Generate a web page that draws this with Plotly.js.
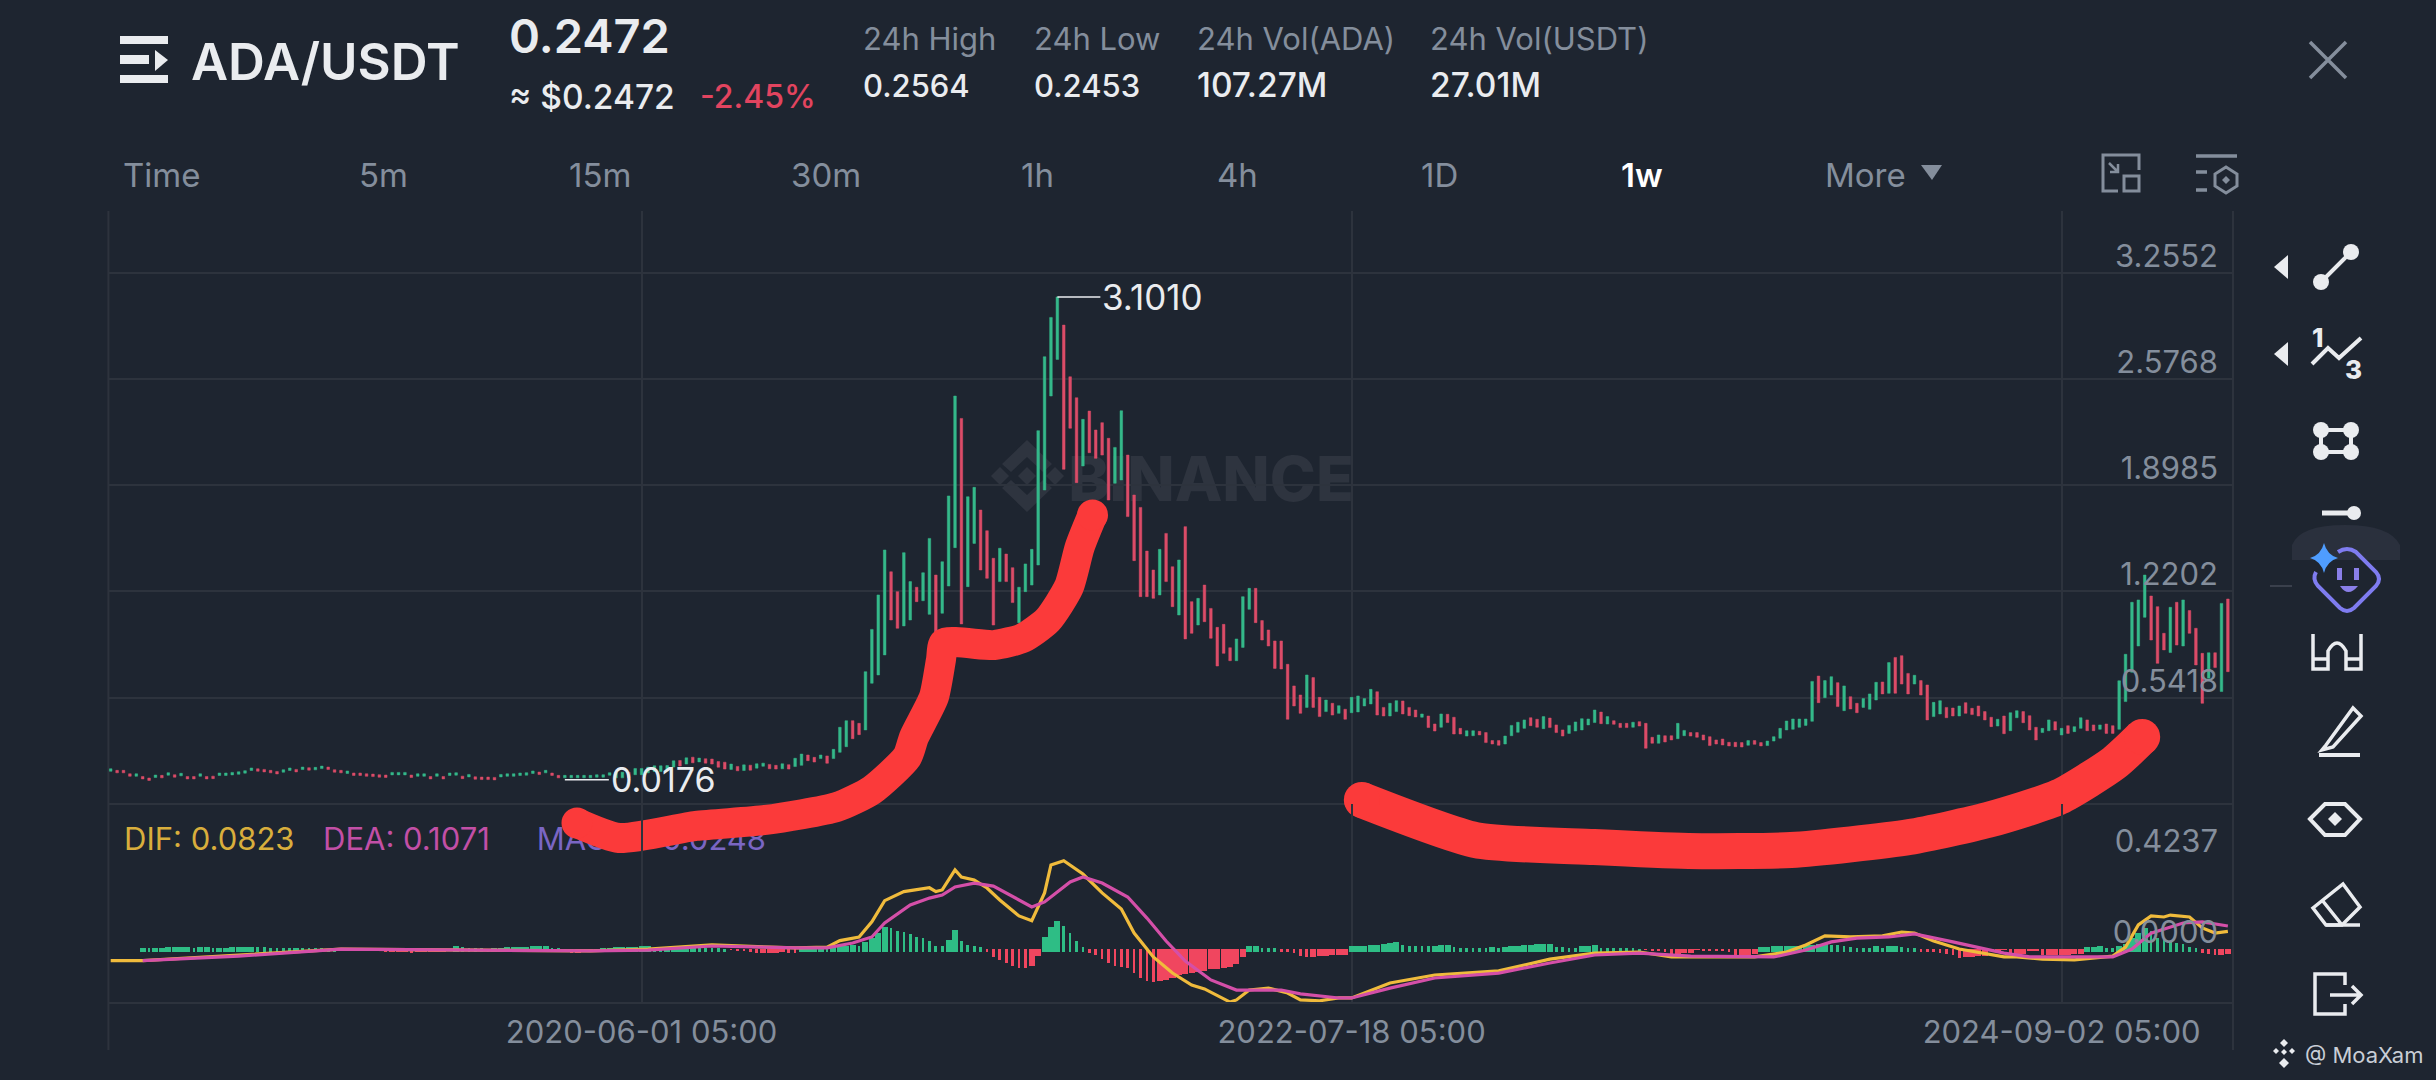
<!DOCTYPE html>
<html>
<head>
<meta charset="utf-8">
<script src="https://cdn.plot.ly/plotly-3.0.1.min.js"></script>
<style>html,body{margin:0;padding:0;background:#1e2530;overflow:hidden}#chart{width:2436px;height:1080px}</style>
</head>
<body>
<div id="chart"></div>
<script>
// ---- weekly candles (week 1 = 2018-10-29) ----
const open = [
.072,.078,.078,.056,.040,.039,.029,.032,.046,.047,
.050,.043,.039,.039,.040,.039,.041,.045,.045,.049,
.053,.060,.077,.088,.084,.078,.071,.066,.077,.084,
.083,.095,.081,.089,.099,.082,.078,.058,.061,.061,
.056,.054,.050,.048,.049,.049,.049,.048,.040,.040,
.039,.040,.039,.045,.047,.041,.036,.037,.035,.035,
.033,.036,.040,.040,.045,.047,.058,.067,.062,.061,
.046,.030,.030,.030,.030,.030,.034,.034,.047,
.030,.030,.066,.050,.050,.062,.071,.071,.073,.099,
.141,.118,.162,.132,.152,.150,.134,.130,.084,.103,
.077,.111,.092,.104,.116,.110,.088,.114,.102,.110,
.176,.161,.153,.170,.153,.193,.229,.395,.378,
.336,.634,.687,.815,1.346,1.219,1.000,1.038,1.247,1.161,
1.074,1.325,1.081,1.255,1.500,2.325,1.251,1.527,1.740,1.608,
1.432,1.283,1.459,1.372,1.021,1.219,1.261,1.389,1.868,2.468,
2.702,2.921,2.591,2.457,2.021,2.372,2.251,2.298,2.198,1.911,
1.932,2.091,1.836,1.757,1.478,1.357,1.198,1.591,1.378,1.070,
1.634,1.155,1.006,1.261,1.112,.991,1.010,.861,.778,.863,
1.106,1.240,1.034,.974,.904,.904,.755,.617,.559,.480,
.670,.544,.453,.506,.442,.468,.446,.451,.489,.502,
.580,.480,.425,.453,.521,.480,.463,.417,.425,.374,
.353,.436,.417,.346,.297,.299,.327,.319,.268,.268,
.246,.299,.321,.346,.414,.404,.344,.412,.368,.336,
.314,.329,.336,.368,.383,.450,.374,.395,.378,.378,
.353,.389,.378,.289,.251,.299,.299,.280,.299,.319,
.319,.304,.293,.272,.278,.257,.257,.255,.238,.268,
.255,.236,.265,.283,.336,.340,.353,.365,.391,.680,
.542,.559,.638,.459,.548,.506,.480,.468,.527,.642,
.570,.799,.810,.697,.629,.651,.623,.421,.438,.480,
.476,.425,.510,.474,.489,.453,.417,.361,.425,.331,
.414,.453,.427,.353,.319,.331,.389,.304,.363,.325,
.346,.400,.368,.340,.374,.363,.340,.517,.704,.872,
1.055,1.191,1.123,.953,.830,1.151,.872,1.098,.985,.825,
.666,.829,.581,1.172];
const close = [
.088,.062,.062,.040,.056,.023,.013,.048,.030,.063,
.034,.059,.023,.023,.056,.023,.025,.061,.061,.065,
.069,.076,.093,.072,.068,.062,.055,.082,.093,.068,
.099,.079,.097,.105,.083,.066,.062,.074,.045,.045,
.040,.038,.034,.032,.065,.065,.065,.032,.056,.056,
.023,.056,.023,.061,.063,.025,.052,.021,.019,.019,
.017,.052,.056,.056,.061,.063,.074,.051,.078,.045,
.030,.046,.046,.046,.046,.046,.050,.050,.063,
.066,.066,.030,.090,.090,.098,.107,.107,.109,.139,
.105,.158,.126,.156,.124,.118,.098,.086,.118,.075,
.113,.079,.120,.124,.088,.086,.120,.086,.155,.182,
.140,.131,.176,.123,.212,.353,.395,.280,.306,
.708,.978,1.198,1.485,1.038,.985,1.468,1.283,1.155,1.340,
1.559,.953,1.410,1.830,2.468,1.013,1.825,1.885,1.357,1.304,
1.006,1.496,1.283,1.149,1.247,1.396,1.489,2.247,2.719,2.970,
3.101,2.000,2.262,1.915,2.319,2.106,2.070,2.091,1.804,2.140,
2.374,1.698,1.417,1.187,1.187,1.176,1.489,1.283,1.123,1.421,
.917,.953,1.176,1.027,.921,.744,.825,.778,.917,1.187,
1.240,1.021,.910,.872,.729,.725,.404,.489,.442,.687,
.480,.421,.527,.431,.491,.404,.544,.553,.536,.595,
.431,.425,.506,.523,.438,.427,.419,.438,.351,.329,
.438,.383,.310,.310,.331,.331,.304,.255,.246,.238,
.297,.365,.385,.400,.363,.353,.421,.351,.319,.297,
.365,.387,.408,.406,.463,.376,.421,.372,.351,.351,
.385,.361,.219,.251,.304,.259,.272,.378,.333,.297,
.289,.272,.236,.246,.240,.234,.229,.227,.268,.244,
.234,.265,.293,.346,.393,.406,.406,.406,.646,.510,
.651,.676,.485,.617,.470,.446,.536,.566,.640,.566,
.766,.570,.629,.566,.685,.559,.400,.512,.523,.414,
.425,.489,.442,.434,.425,.400,.357,.404,.312,.446,
.459,.382,.336,.272,.346,.400,.336,.346,.314,.357,
.414,.331,.331,.368,.314,.314,.650,.819,1.151,1.166,
1.325,.910,.761,.847,1.119,.878,1.166,.953,.751,.506,
.829,.734,1.144,.708];

// ---- MACD histogram, one value per week ----
const hist = [
0,0,0,0,0,.004,.003,.006,.007,.008,
.009,.010,.011,.007,.009,.010,.004,.006,.007,.008,
.009,.010,.011,.010,.008,.006,.005,.005,.004,.007,
.006,.005,.004,.003,.002,.001,0,-.002,-.003,-.004,
-.005,-.006,-.007,-.016,-.015,-.014,-.013,-.017,-.016,-.015,
-.014,-.013,-.012,-.011,.012,.008,.006,.004,.003,.002,
.006,.007,.008,.009,.010,.011,.012,.013,.014,.006,
.004,.002,-.018,-.017,-.016,-.015,-.014,.006,.007,.008,
.009,.010,.011,.012,.013,.005,.004,.007,.008,.009,
.010,.011,.006,.005,.004,.003,.002,-.006,-.008,-.010,
-.012,-.020,-.019,-.018,-.017,-.016,-.018,-.020,.010,.011,
.012,.013,.010,.012,.014,.016,.018,.015,.034,.050,
.073,.102,.100,.085,.079,.068,.056,.050,.039,.016,
.014,.042,.087,.037,.020,.014,.008,-.012,-.039,-.051,
-.067,-.079,-.087,-.090,-.079,-.033,.057,.101,.129,.107,
.073,.037,.011,-.017,-.028,-.048,-.067,-.078,-.082,-.090,
-.113,-.136,-.149,-.155,-.147,-.144,-.136,-.121,-.118,-.113,
-.105,-.101,-.095,-.091,-.087,-.082,-.071,-.036,.014,.016,
.006,.005,.004,-.012,-.016,-.020,-.033,-.039,-.036,-.033,
-.031,-.030,-.029,-.028,.012,.014,.016,.018,.020,.024,
.030,.032,.018,.016,.015,.014,.013,.015,.018,.020,
.008,.007,.006,.005,.004,.003,.008,.006,.010,.013,
.015,.017,.019,.021,.023,.025,.010,.008,.007,.006,
.014,.016,.018,.006,.005,.004,.004,.003,.003,.002,
-.006,-.008,-.010,-.012,-.022,-.021,-.020,-.019,-.006,-.007,
-.008,-.009,-.010,-.012,-.028,-.027,-.026,-.025,.010,.011,
.012,.013,.014,.015,.016,.017,.020,.024,.030,.020,
.018,.016,.008,.007,.006,.005,.014,.007,.015,.016,
.008,.006,.005,-.012,-.013,-.014,-.017,-.022,-.028,-.040,
-.038,-.036,-.034,-.032,-.010,-.008,-.006,-.026,-.024,-.023,
-.010,-.009,-.030,-.029,-.028,-.027,-.026,-.025,-.024,.010,
.011,.012,.006,.005,.012,.025,.050,.075,.096,.085,
.050,.042,.039,.029,.022,.011,.006,-.020,-.024,-.030,-.028,-.025];

// ---- MACD lines, read at the weeks where the shape changes ----
const difWeek = [1,6,21,37,76,85,95,108,113,115,118,120,122,125,129,130,131,133,134,136,138,140,143,145,147,148,150,153,156,159,161,164,167,170,172,176,177,179,182,185,187,190,193,195,201,208,218,226,233,240,245,258,263,266,269,273,278,281,283,286,290,294,297,299,303,308,314,316,318,320,322,323,326,328,330,332];
const dif = [-.054,-.054,-.028,-.001,-.009,0,.019,.005,.009,.039,.056,.127,.225,.267,.285,.267,.275,.368,.335,.321,.284,.228,.154,.132,.261,.391,.411,.349,.261,.186,.074,-.037,-.112,-.168,-.186,-.247,-.237,-.191,-.182,-.205,-.237,-.241,-.228,-.228,-.158,-.121,-.102,-.047,-.019,-.014,-.037,-.037,-.014,.019,.061,.056,.061,.079,.074,.037,0,-.019,-.037,-.037,-.047,-.051,-.033,.009,.112,.154,.149,.158,.149,.098,.074,.082];
const deaWeek = [6,21,37,76,85,95,108,113,117,120,122,126,129,131,133,136,139,143,145,147,151,153,156,160,163,166,169,173,177,180,184,187,193,195,201,208,218,226,233,240,248,261,266,270,274,279,283,289,294,297,301,305,314,317,320,325,328,332];
const dea = [-.054,-.033,-.001,-.009,-.005,.014,.005,.005,.028,.056,.121,.205,.237,.251,.289,.307,.293,.228,.196,.219,.312,.335,.307,.242,.144,.037,-.056,-.144,-.191,-.191,-.191,-.209,-.228,-.228,-.182,-.135,-.112,-.065,-.028,-.019,-.033,-.037,-.005,.033,.051,.056,.070,.033,0,-.019,-.037,-.037,-.037,0,.074,.121,.126,.107];

// ---- the two hand-drawn red marker strokes ----
const stroke1Week = [73.9,80.5,92.5,103.4,114.5,120,125.5,126.6,129.7,130.8,131.3,139.1,143.6,147.5,150.8,152.5,154.5];
const stroke1Price = [-.258,-.354,-.277,-.239,-.156,-.048,.163,.291,.546,.783,.891,.878,.923,1.038,1.249,1.504,1.708];
const stroke2Week = [196.6,214.4,232.9,247.7,263.7,282.2,294.5,305.6,314.2,318.6];
const stroke2Price = [-.111,-.367,-.412,-.437,-.431,-.348,-.239,-.092,.125,.291];

// ---- labels ----
const priceTicks = [3.2552,2.5768,1.8985,1.2202,0.5418,-0.1366];
const priceTickText = ['3.2552','2.5768','1.8985','1.2202','0.5418',''];
const macdTicks = [0.4237,0];
const macdTickText = ['0.4237','0.0000'];
const dateTicks = ['2020-06-01','2022-07-18','2024-09-02'];
const dateTickText = ['2020-06-01 05:00','2022-07-18 05:00','2024-09-02 05:00'];
const intervals = ['Time','5m','15m','30m','1h','4h','1D','1w','More'];
const intervalX = [122,358,568,790,1020,1216,1420,1620,1824];
const statNames = ['24h High','24h Low','24h Vol(ADA)','24h Vol(USDT)'];
const statValues = ['0.2564','0.2453','107.27M','27.01M'];
const statValueSize = [31,31,33.5,33.5];
const statX = [862,1033,1196,1429];

const W = 2436, H = 1080;
const WHITE = '#eaecef', GRAY = '#848e9c', GRID = '#2d333d', BG = '#1e2530';
const FONT = 'Inter, "Noto Sans", sans-serif';
const week = i => new Date(Date.UTC(2018, 9, 29) + (i - 1) * 7 * 864e5).toISOString();
const weeks = open.map((_, i) => week(i + 1));
const high = open.map((o, i) => Math.max(o, close[i]));
const low = open.map((o, i) => Math.min(o, close[i]));

// rising histogram bars are drawn wide, falling ones thin; green bars sit on a slightly lower foot
const WEEK_MS = 7 * 864e5;
const GREEN_FOOT = -0.012;
const histWidth = hist.map((h, i) => (i > 0 && h > hist[i - 1] ? 0.94 : 0.42) * WEEK_MS);
const histColor = hist.map(h => h >= 0 ? '#2ebd85' : '#f0465f');
const histBase = hist.map(h => h > 0 ? GREEN_FOOT : 0);
const histY = hist.map(h => h > 0 ? h - GREEN_FOOT : h);

const traces = [
  {type: 'candlestick', x: weeks, open, high, low, close, xaxis: 'x', yaxis: 'y', whiskerwidth: 0,
   increasing: {line: {color: '#35b98a', width: 0.5}, fillcolor: '#35b98a'},
   decreasing: {line: {color: '#dc4c68', width: 0.5}, fillcolor: '#dc4c68'}, hoverinfo: 'skip'},
  {type: 'scatter', mode: 'text', x: [week(3.1), week(34.2), week(67.6)], y: [-.3796, -.3796, -.3796],
   text: ['DIF: 0.0823', 'DEA: 0.1071', 'MACD: -0.0248'], textposition: 'middle right',
   textfont: {family: FONT, size: 31, color: ['#d9ae3c', '#c24fa6', '#7a66c4']}, cliponaxis: false, xaxis: 'x', yaxis: 'y', hoverinfo: 'skip'},
  {type: 'scatter', mode: 'lines+markers', x: stroke1Week.map(week), y: stroke1Price, xaxis: 'x', yaxis: 'y',
   line: {color: '#fb3a3a', width: 30, shape: 'spline', smoothing: 0.6},
   marker: {color: '#fb3a3a', opacity: 1, line: {width: 0}, size: stroke1Week.map((_, i) => (i === 0 || i === stroke1Week.length - 1) ? 31 : 0)}, cliponaxis: false, hoverinfo: 'skip'},
  {type: 'scatter', mode: 'lines+markers', x: stroke2Week.map(week), y: stroke2Price, xaxis: 'x', yaxis: 'y',
   line: {color: '#fb3a3a', width: 36, shape: 'spline', smoothing: 0.6},
   marker: {color: '#fb3a3a', opacity: 1, line: {width: 0}, size: stroke2Week.map((_, i) => (i === 0 || i === stroke2Week.length - 1) ? 36 : 0)}, cliponaxis: false, hoverinfo: 'skip'},
  {type: 'bar', x: weeks, y: histY, base: histBase, width: histWidth, marker: {color: histColor, line: {width: 0}}, xaxis: 'x', yaxis: 'y2', hoverinfo: 'skip'},
  {type: 'scatter', mode: 'lines', x: difWeek.map(week), y: dif, line: {color: '#f0bb3c', width: 3.2}, xaxis: 'x', yaxis: 'y2', cliponaxis: false, hoverinfo: 'skip'},
  {type: 'scatter', mode: 'lines', x: deaWeek.map(week), y: dea, line: {color: '#d44fa8', width: 3.2}, xaxis: 'x', yaxis: 'y2', cliponaxis: false, hoverinfo: 'skip'}
];

// chrome helpers: pixels of the photo to paper coordinates
const px = d => d.replace(/(-?[\d.]+)[ ,](-?[\d.]+)/g, (m, a, b) => (a / W) + ' ' + (1 - b / H));
const path = (d, color, width, fill) => ({type: 'path', xref: 'paper', yref: 'paper', path: px(d),
  line: {color: color, width: width || 0}, fillcolor: fill || 'rgba(0,0,0,0)', layer: 'above'});
const solid = (d, fill) => path(d, 'rgba(0,0,0,0)', 0, fill);
const dot = (x, y, r, fill) => ({type: 'circle', xref: 'paper', yref: 'paper', x0: (x - r) / W, x1: (x + r) / W,
  y0: 1 - (y + r) / H, y1: 1 - (y - r) / H, fillcolor: fill, line: {width: 0}, layer: 'above'});
const mark = '#2e343f';
const diamond = (x, y, r, c) => solid(`M${x} ${y - r} L${x + r} ${y} L${x} ${y + r} L${x - r} ${y} Z`, c);

const shapes = [
  // plot frame verticals, running past the axis strip
  {type: 'line', xref: 'paper', yref: 'paper', x0: 108.4 / W, x1: 108.4 / W, y0: 1 - 1050 / H, y1: 1 - 211 / H, line: {color: GRID, width: 2}, layer: 'below'},
  {type: 'line', xref: 'paper', yref: 'paper', x0: 2233 / W, x1: 2233 / W, y0: 1 - 1050 / H, y1: 1 - 211 / H, line: {color: GRID, width: 2}, layer: 'below'},
  // watermark
  Object.assign(diamond(1000, 476, 9, mark), {layer: 'below'}),
  Object.assign(diamond(1055, 476, 9, mark), {layer: 'below'}),
  Object.assign(diamond(1027, 476, 9, mark), {layer: 'below'}),
  Object.assign(solid('M1027 440 L1052 464 L1043 472 L1027 457 L1011 472 L1002 464 Z', mark), {layer: 'below'}),
  Object.assign(solid('M1027 512 L1052 488 L1043 480 L1027 495 L1011 480 L1002 488 Z', mark), {layer: 'below'}),
  {type: 'rect', xref: 'paper', yref: 'paper', x0: 1070 / W, x1: 1352 / W, y0: 1 - 500 / H, y1: 1 - 452 / H, line: {width: 0},
   fillcolor: 'rgba(0,0,0,0)', layer: 'below',
   label: {text: 'BINANCE', font: {family: 'Inter', size: 62, color: mark, weight: 800}, textposition: 'middle center'}},
  // header icons
  solid('M120 36 L168 36 L168 44 L120 44 Z', WHITE),
  solid('M120 55 L149 55 L149 64 L120 64 Z', WHITE),
  solid('M155 50 L168 60 L155 71 Z', WHITE),
  solid('M120 75 L168 75 L168 83 L120 83 Z', WHITE),
  path('M2310 42 L2346 78 M2346 42 L2310 78', GRAY, 3.5),
  solid('M1921 165 L1942 165 L1932 180 Z', GRAY),
  path('M2139 170 L2139 155 L2103 155 L2103 191 L2118 191', GRAY, 3),
  path('M2124 176 L2139 176 L2139 191 L2124 191 Z', GRAY, 3),
  path('M2109 163 L2118 172 M2118 164 L2118 172 L2110 172', GRAY, 2.5),
  path('M2196 156 L2237 156 M2196 172 L2207 172 M2196 190 L2207 190', GRAY, 3.5),
  path('M2226 167 L2237 174 L2237 186 L2226 193 L2215 186 L2215 174 Z', GRAY, 3),
  diamond(2226, 180, 4, GRAY),
  // toolbar
  solid('M2288 255 L2288 279 L2274 267 Z', WHITE),
  solid('M2288 342 L2288 366 L2274 354 Z', WHITE),
  path('M2321 282 L2351 252', WHITE, 4), dot(2351, 252, 8, WHITE), dot(2321, 282, 8, WHITE),
  path('M2312 364 L2328 348 L2339 358 L2361 338', WHITE, 4),
  path('M2321 430 L2351 430 L2351 452 L2321 452 Z', WHITE, 4),
  dot(2321, 430, 8, WHITE), dot(2351, 430, 8, WHITE), dot(2321, 452, 8, WHITE), dot(2351, 452, 8, WHITE),
  path('M2322 513 L2350 513', WHITE, 5), dot(2354, 513, 7, WHITE),
  solid('M2292 560 L2292 545 Q2300 525 2345 525 Q2390 525 2400 545 L2400 560 Z', '#2a303d'),
  path('M2270 586 L2292 586', '#3a404c', 2),
  path('M2338 552 Q2347 546 2356 552 L2376 572 Q2382 579 2376 586 L2354 608 Q2347 614 2340 608 L2318 586 Q2312 579 2316 572', '#7f7cf0', 4),
  solid('M2324 543 Q2327 555 2338 558 Q2327 561 2324 573 Q2321 561 2310 558 Q2321 555 2324 543 Z', '#4f9dff'),
  solid('M2337 568 L2342 568 L2342 580 L2337 580 Z', '#8a7fe8'),
  solid('M2354 568 L2359 568 L2359 580 L2354 580 Z', '#8a7fe8'),
  solid('M2340 586 Q2348 598 2358 586 Z', '#8a7fe8'),
  path('M2313 634 L2313 669 L2328 669 L2328 651 Q2337 635 2346 651 L2346 669 L2361 669 L2361 634', WHITE, 3.5),
  path('M2313 659 L2328 659 M2346 659 L2361 659', WHITE, 3.5),
  path('M2326 745 L2353 708 L2361 716 L2333 747 L2322 750 Z', WHITE, 3.5),
  path('M2319 755 L2360 755', WHITE, 4),
  path('M2310 819 L2325 804 L2345 804 L2360 819 L2345 835 L2325 835 Z', WHITE, 4),
  diamond(2335, 819, 7, WHITE),
  path('M2343 884 L2360 907 L2342 925 L2326 925 L2313 908 Z', WHITE, 3.5),
  path('M2322 900 L2342 925 M2326 925 L2360 925', WHITE, 3.5),
  path('M2345 985 L2345 974 L2315 974 L2315 1014 L2345 1014 L2345 1004', WHITE, 3.5),
  path('M2330 995 L2360 995 M2352 986 L2361 995 L2352 1004', WHITE, 3.5),
  // signature logo
  diamond(2284, 1043, 4, WHITE), diamond(2276, 1051, 3, WHITE), diamond(2292, 1051, 3, WHITE), diamond(2284, 1052, 3, WHITE), diamond(2284, 1063, 5, WHITE)
];

const txt = (text, x, y, size, color, weight, anchor) => ({text, x: x / W, y: 1 - y / H, xref: 'paper', yref: 'paper',
  xanchor: anchor || 'left', yanchor: 'middle', showarrow: false, borderpad: 0,
  font: {family: FONT, size, color, weight: weight || 400}});

const annotations = [
  txt('ADA/USDT', 190, 62, 51, WHITE, 600),
  txt('0.2472', 508, 36, 47, WHITE, 600),
  txt('≈ $0.2472', 508, 97, 33.5, WHITE, 500),
  txt('-2.45%', 699, 97, 32, '#e2445f', 500)
].concat(
  statNames.map((s, i) => txt(s, statX[i], 38, 31, GRAY)),
  statValues.map((s, i) => txt(s, statX[i], 85, statValueSize[i], WHITE, 500)),
  intervals.map((s, i) => txt(s, intervalX[i], 175, 33, s === '1w' ? '#ffffff' : GRAY, s === '1w' ? 600 : 400)),
  [txt('1', 2317, 338, 26, WHITE, 800, 'center'), txt('3', 2353, 370, 26, WHITE, 800, 'center'),
   txt('@ MoaXam', 2304, 1055, 22, '#c9ced6')],
  [
   {x: week(72), y: 0.0176, xref: 'x', yref: 'y', text: '0.0176', showarrow: true, arrowhead: 0, arrowwidth: 1.5, arrowcolor: WHITE,
    ax: 44, ay: 0, xanchor: 'left', yanchor: 'middle', font: {family: FONT, size: 34, color: WHITE}},
   {x: week(149), y: 3.101, xref: 'x', yref: 'y', text: '3.1010', showarrow: true, arrowhead: 0, arrowwidth: 1.5, arrowcolor: WHITE,
    ax: 43, ay: 0, xanchor: 'left', yanchor: 'middle', font: {family: FONT, size: 35, color: WHITE}}
  ]
);

const layout = {
  width: W, height: H, margin: {l: 0, r: 0, t: 0, b: 0}, paper_bgcolor: BG, plot_bgcolor: 'rgba(0,0,0,0)',
  showlegend: false, boxgap: 0.42, bargap: 0, barmode: 'overlay', dragmode: false,
  xaxis: {type: 'date', domain: [108.4 / W, 2233 / W], range: [week(0.64), week(332.8)], anchor: 'y',
    rangeslider: {visible: false}, tickmode: 'array', tickvals: dateTicks, ticktext: dateTickText, ticks: '', ticklen: 0, ticklabelstandoff: 2,
    tickfont: {family: FONT, size: 31, color: GRAY}, showgrid: true, gridcolor: GRID, gridwidth: 2, showline: true, linecolor: GRID, linewidth: 2, zeroline: false},
  yaxis: {domain: [1 - 1002 / H, 1 - 211 / H], range: [0.5418 - (1002 - 697.7) * 0.006385, 0.5418 + (697.7 - 211) * 0.006385], anchor: 'x', side: 'right',
    tickmode: 'array', tickvals: priceTicks, ticktext: priceTickText, ticks: '', ticklabelposition: 'inside', ticklabelstandoff: 12, ticklabelshift: -17,
    tickfont: {family: FONT, size: 31, color: GRAY}, showgrid: true, gridcolor: GRID, gridwidth: 2, zeroline: false, showline: false},
  yaxis2: {domain: [1 - 1002 / H, 1 - 804 / H], range: [(949 - 1002) / 214.8, (949 - 804) / 214.8], anchor: 'x', side: 'right',
    tickmode: 'array', tickvals: macdTicks, ticktext: macdTickText, ticks: '', ticklabelposition: 'inside', ticklabelstandoff: 12, ticklabelshift: -17,
    tickfont: {family: FONT, size: 31, color: GRAY}, showgrid: false, zeroline: false, showline: false},
  shapes, annotations
};
Plotly.newPlot('chart', traces, layout, {displayModeBar: false, staticPlot: true});
</script>
</body>
</html>
